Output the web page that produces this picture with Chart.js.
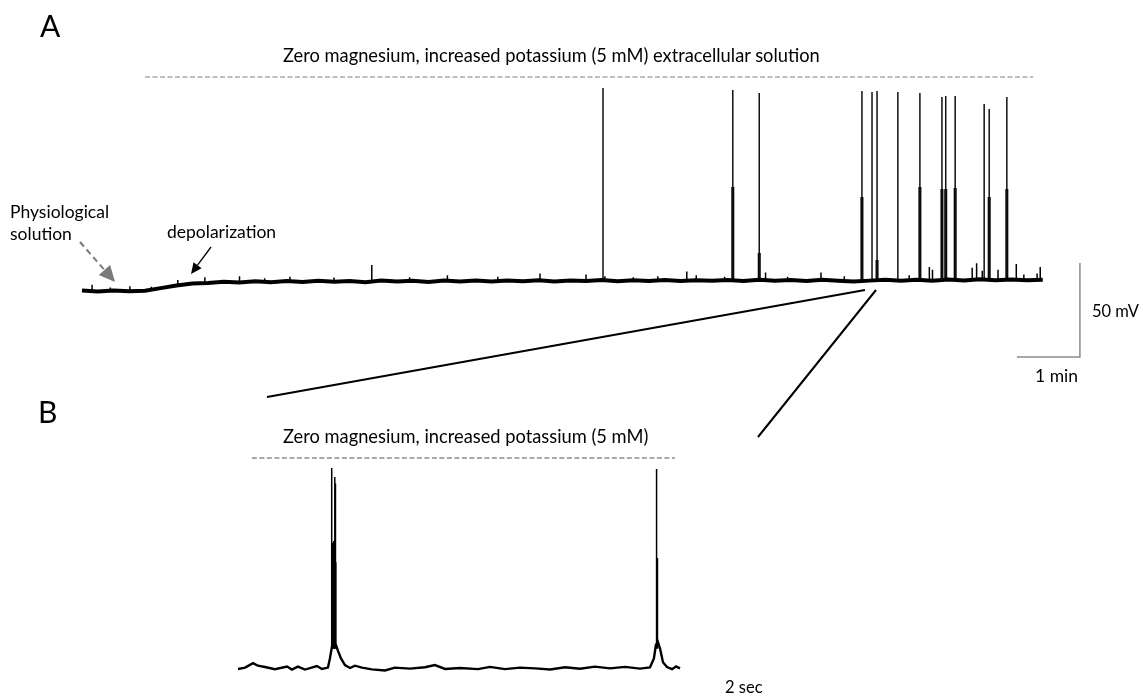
<!DOCTYPE html>
<html>
<head>
<meta charset="utf-8">
<title>Zero magnesium recording</title>
<script src="https://cdn.jsdelivr.net/npm/chart.js@4.4.1/dist/chart.umd.min.js"></script>
<style>
  body { margin: 0; background: #fff; }
  #figure { position: relative; width: 1143px; height: 699px; overflow: hidden;
            font-family: Lato, "Open Sans", sans-serif; color: #000; }
  #figure canvas { position: absolute; left: 0; top: 0; }
  .lbl { position: absolute; white-space: nowrap; line-height: 1; }
  .panel { font-size: 30px; }
  .head { font-size: 18.3px; }
  .note { font-size: 17.5px; }
  .small { font-size: 16.5px; }
</style>
</head>
<body>
<div id="figure">
  <canvas id="traces" width="1143" height="699"></canvas>

  <div class="lbl panel" style="left:40px; top:10px;">A</div>
  <div class="lbl head" style="left:283px; top:46px;">Zero magnesium, increased potassium (5 mM) extracellular solution</div>
  <div class="lbl note" style="left:10px; top:202.5px;">Physiological</div>
  <div class="lbl note" style="left:10px; top:224.5px;">solution</div>
  <div class="lbl note" style="left:167px; top:222.5px;">depolarization</div>
  <div class="lbl small" style="left:1092px; top:302.5px;">50 mV</div>
  <div class="lbl note" style="left:1035px; top:366.5px;">1 min</div>

  <div class="lbl panel" style="left:38px; top:396px;">B</div>
  <div class="lbl head" style="left:283px; top:427px;">Zero magnesium, increased potassium (5 mM)</div>
  <div class="lbl small" style="left:725px; top:678.5px;">2 sec</div>
</div>

<script>
// ======================================
// DATA - panel A (time in min, potential in mV)
// ======================================

// resting potential sampled every 0.25 min
const restStepMin = 0.25;
const restingMvA = [
  -70.1, -70.6, -70.0, -70.5, -70.2, -68.8, -67.4, -66.3, -66.0, -65.4,
  -65.8, -65.2, -65.6, -65.0, -65.5, -64.9, -65.4, -65.0, -65.6, -64.8,
  -65.3, -64.9, -65.5, -64.8, -65.2, -64.7, -65.3, -64.8, -65.1, -64.6,
  -65.2, -64.7, -65.0, -64.5, -65.1, -64.6, -65.0, -64.5, -65.0, -64.6,
  -64.9, -64.5, -65.0, -64.4, -64.9, -64.5, -65.0, -64.4, -64.9, -65.3,
  -64.8, -64.4, -64.9, -64.3, -64.8, -64.2, -64.7, -64.1, -64.6, -64.2,
  -64.6, -64.3
];

// action potentials
const spikeTimesA = [8.27, 10.33, 10.75, 12.38, 12.54, 12.62, 12.95, 13.30, 13.65, 13.71, 13.86, 14.32, 14.40, 14.68];
const spikePeaksA = [37.7, 36.6, 35.0, 36.1, 35.5, 36.1, 35.5, 35.0, 32.9, 33.4, 33.4, 29.1, 26.5, 32.9];
const burstPeaksA = [null, -15.0, -50.1, -20.3, null, -53.8, null, -15.0, -16.1, -16.1, -15.5, null, -20.3, -16.1];
const spikeFootA = -65;

// small synaptic events on the baseline
const eventTimesA = [0.16, 0.45, 0.76, 1.1, 1.52, 1.95, 2.5, 2.9, 3.3, 4.0, 4.6, 5.2, 5.8, 6.6, 7.27, 8.0, 8.3, 8.75,
                     9.14, 9.6, 9.75, 10.2, 10.85, 11.2, 11.73, 12.1, 13.13, 13.45, 13.5, 14.13, 14.2, 14.29,
                     14.54, 14.83, 14.95, 15.16, 15.21];
const eventPeaksA = [-67, -68.5, -67.8, -68, -64.5, -63, -62.5, -63.5, -62.8, -63.2, -56.5, -63, -62, -62.8, -61,
                     -61.5, -62.5, -63, -62.5, -60, -62, -62.8, -60.5, -62.8, -60.5, -62.5, -62, -57.5, -59, -58,
                     -55.5, -59.5, -59, -56, -61.5, -61, -57.5];
const eventFootA  = [-70, -70, -70, -70, -67.5, -66, -65.5, -65.2, -65, -65, -65, -65, -65, -64.8, -64.8, -64.8,
                     -64.8, -64.8, -64.8, -64.6, -64.6, -64.6, -64.6, -64.6, -64.6, -64.6, -64.5, -64.5, -64.5,
                     -64.4, -64.4, -64.4, -64.4, -64.4, -64.4, -64.4, -64.4];

// perfusion of the modified solution
const bathWindowA = [1.0, 15.1];

// scale bar
const scaleBarMin = 1;
const scaleBarMv = 50;

// ======================================
// DATA - panel B (time in s, potential in mV)
// ======================================

const traceTimesB = [
  0, 0.32, 0.68, 0.9, 1.22, 1.67, 2.22, 2.44, 2.71, 3.03, 3.57, 3.8, 4.07, 4.16, 4.25, 4.34,
  4.43, 4.52, 4.66, 4.84, 5.07, 5.29, 5.61, 6.06, 6.65, 7.1, 7.78, 8.46, 8.91, 9.37, 10.05,
  10.86, 11.4, 12.08, 12.76, 13.44, 14.12, 14.8, 15.48, 16.15, 16.83, 17.51, 18.19, 18.64,
  18.82, 18.91, 19.0, 19.1, 19.23, 19.41, 19.64, 19.82, 20.0
];
const traceMvB = [
  -65.5, -64.8, -62.5, -63.8, -64.5, -65.6, -64.2, -65.8, -64.3, -65.8, -64.0, -65.5, -64.8, -60, -54, -52,
  -53, -56, -60, -63.5, -65, -63.8, -64.8, -65.7, -66.3, -64.8, -65.3, -64.6, -63.5, -65.5, -65.0,
  -65.6, -64.4, -65.6, -64.8, -65.2, -65.8, -64.6, -65.4, -64.3, -65.2, -64.4, -65.3, -64.7,
  -60, -53, -51.5, -55, -62, -64.5, -65.6, -64.2, -65.2
];

const spikeTimesB = [4.24, 4.29, 4.31, 4.33, 4.35, 4.38, 4.41, 4.43, 18.94, 18.98];
const spikePeaksB = [39.0, 0.0, -2.0, 1.0, -3.0, 34.3, 31.0, -10.0, 38.5, -7.8];
const spikeFootB = -55;

// overlapping spikes of the first burst
const burstTimesB = [4.31, 4.35];
const burstTopsB = [-1.0, -4.0];

const bathWindowB = [0.63, 19.77];

// ======================================
// LAYOUT (pixels)
// ======================================

const W = 1143, H = 699;
const panelA = { x0: 82, pxPerUnit: 63, yRest: 281, mvRest: -65, pxPerMv: 1.88, barMv: 43.5 };
const panelB = { x0: 238, pxPerUnit: 22.1, yRest: 668, mvRest: -65, pxPerMv: 1.923, barMv: 44.2 };

function xRange(p) {
  const min = -p.x0 / p.pxPerUnit;
  return { min: min, max: min + W / p.pxPerUnit };
}

function yRange(p) {
  const max = p.mvRest + p.yRest / p.pxPerMv;
  return { min: max - H / p.pxPerMv, max: max };
}

// vertical strokes separated by gaps
function strokes(times, tops, feet) {
  const pts = [];
  times.forEach((t, i) => {
    if (tops[i] == null) return;
    const foot = Array.isArray(feet) ? feet[i] : feet;
    pts.push({ x: t, y: foot }, { x: t, y: tops[i] }, { x: t, y: null });
  });
  return pts;
}

const restA = restingMvA.map((v, i) => ({ x: i * restStepMin, y: v }));
const traceB = traceTimesB.map((t, i) => ({ x: t, y: traceMvB[i] }));

const barStart = spikeTimesA[spikeTimesA.length - 1] + 0.16;
const scaleBar = [
  { x: barStart, y: -105.4 },
  { x: barStart + scaleBarMin, y: -105.4 },
  { x: barStart + scaleBarMin, y: -105.4 + scaleBarMv }
];

function trace(data, xAxis, yAxis, width, color) {
  return {
    data: data, xAxisID: xAxis, yAxisID: yAxis,
    borderColor: color || "#000", borderWidth: width,
    pointRadius: 0, fill: false, spanGaps: false
  };
}

const solutionA = trace(bathWindowA.map(t => ({ x: t, y: panelA.barMv })), "xA", "yA", 1, "#808080");
solutionA.borderDash = [5, 2.5];
const solutionB = trace(bathWindowB.map(t => ({ x: t, y: panelB.barMv })), "xB", "yB", 1, "#555");
solutionB.borderDash = [5, 2.5];

// ======================================
// ARROWS AND ZOOM CONNECTORS
// ======================================

function arrow(ctx, x1, y1, x2, y2, color, width, dash, headLen, headW) {
  const ang = Math.atan2(y2 - y1, x2 - x1);
  const bx = x2 - headLen * Math.cos(ang);
  const by = y2 - headLen * Math.sin(ang);
  ctx.save();
  ctx.strokeStyle = color;
  ctx.fillStyle = color;
  ctx.lineWidth = width;
  ctx.setLineDash(dash);
  ctx.beginPath();
  ctx.moveTo(x1, y1);
  ctx.lineTo(bx, by);
  ctx.stroke();
  ctx.setLineDash([]);
  ctx.beginPath();
  ctx.moveTo(x2, y2);
  ctx.lineTo(bx + headW / 2 * Math.sin(ang), by - headW / 2 * Math.cos(ang));
  ctx.lineTo(bx - headW / 2 * Math.sin(ang), by + headW / 2 * Math.cos(ang));
  ctx.closePath();
  ctx.fill();
  ctx.restore();
}

const figureMarks = {
  id: "figureMarks",
  afterDatasetsDraw(chart) {
    const ctx = chart.ctx;

    arrow(ctx, 80, 242, 115, 282, "#7a7a7a", 2, [6, 4], 16, 15);
    arrow(ctx, 211, 247, 191, 274, "#000", 1.3, [], 11, 10);

    ctx.save();
    ctx.strokeStyle = "#000";
    ctx.lineWidth = 2;
    ctx.beginPath();
    ctx.moveTo(267, 397);
    ctx.lineTo(865, 290);
    ctx.moveTo(758, 437);
    ctx.lineTo(876, 290);
    ctx.stroke();
    ctx.restore();
  }
};

// ======================================
// CHART
// ======================================

new Chart(document.getElementById("traces"), {

  type: "line",

  data: {
    datasets: [
      solutionA,
      trace(restA, "xA", "yA", 4),
      trace(strokes(eventTimesA, eventPeaksA, eventFootA), "xA", "yA", 1.5),
      trace(strokes(spikeTimesA, spikePeaksA, spikeFootA), "xA", "yA", 1.5, "#111"),
      trace(strokes(spikeTimesA, burstPeaksA, spikeFootA), "xA", "yA", 3),
      trace(scaleBar, "xA", "yA", 1.5, "#8a8a8a"),
      solutionB,
      trace(traceB, "xB", "yB", 2.4),
      trace(strokes(spikeTimesB, spikePeaksB, spikeFootB), "xB", "yB", 1.5),
      trace(strokes(burstTimesB, burstTopsB, spikeFootB), "xB", "yB", 2.5)
    ]
  },

  options: {
    responsive: false,
    animation: false,
    events: [],
    layout: { padding: 0 },
    plugins: {
      legend: { display: false },
      tooltip: { enabled: false }
    },
    elements: {
      line: { tension: 0, borderCapStyle: "butt", borderJoinStyle: "miter" }
    },
    scales: {
      xA: Object.assign({ type: "linear", axis: "x", position: "bottom", display: false }, xRange(panelA)),
      yA: Object.assign({ type: "linear", axis: "y", position: "left", display: false }, yRange(panelA)),
      xB: Object.assign({ type: "linear", axis: "x", position: "bottom", display: false }, xRange(panelB)),
      yB: Object.assign({ type: "linear", axis: "y", position: "left", display: false }, yRange(panelB))
    }
  },

  plugins: [figureMarks]

});
</script>
</body>
</html>
